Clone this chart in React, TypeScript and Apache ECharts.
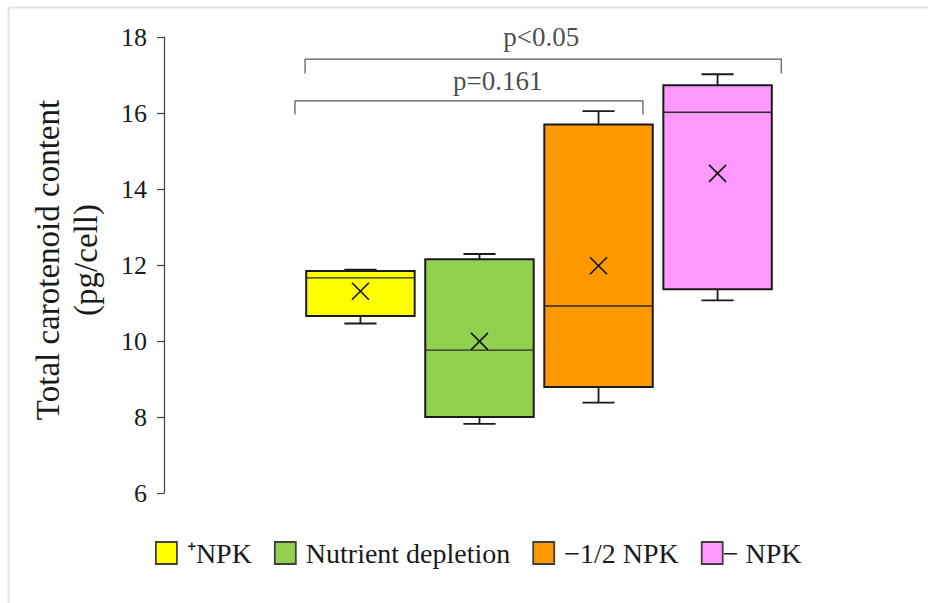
import React, { useEffect, useRef } from "react";
import * as echarts from "echarts";

const categories = ["⁺NPK", "Nutrient depletion", "−1/2 NPK", "− NPK"];
const whiskerLow = [10.46, 7.82, 8.38, 11.07];
const quartile1 = [10.66, 8.0, 8.79, 11.36];
const medians = [11.66, 9.76, 10.92, 16.02];
const quartile3 = [11.84, 12.15, 15.7, 16.73];
const whiskerHigh = [11.88, 12.29, 16.05, 17.02];
const means = [11.31, 9.99, 11.98, 14.41];
const boxColors = ["#FFFF00", "#92D050", "#FF9900", "#FF99FF"];

const bracketLabels = ["p=0.161", "p<0.05"];
const bracketFrom = [-0.55, -0.465];
const bracketTo = [2.373, 3.535];
const bracketTop = [16.32, 17.42];
const bracketFoot = [15.96, 17.04];
const bracketLabelX = [1.153, 1.518];
const bracketLabelY = [16.84, 18.0];

const yTicks = { min: 6, max: 18, interval: 2 };
const FONT = "'Liberation Serif', 'Times New Roman', serif";

export default function App() {
  const ref = useRef<HTMLDivElement>(null);
  useEffect(() => {
    document.body.style.margin = "0";
    const chart = echarts.init(ref.current!, undefined, { renderer: "svg" });

    const boxSeries = categories.map((name, i) => ({
      type: "custom",
      name,
      itemStyle: { color: boxColors[i] },
      data: [[i, whiskerLow[i], quartile1[i], medians[i], quartile3[i], whiskerHigh[i], means[i]]],
      renderItem: (params: any, api: any) => {
        const x = api.value(0);
        const lo = api.coord([x, api.value(1)]);
        const b1 = api.coord([x, api.value(2)]);
        const md = api.coord([x, api.value(3)]);
        const b3 = api.coord([x, api.value(4)]);
        const hi = api.coord([x, api.value(5)]);
        const mn = api.coord([x, api.value(6)]);
        const band = api.size([1, 0])[0];
        const bw = band * 0.911;
        const cap = band * 0.27;
        const cx = lo[0];
        const xs = 8.5;
        const stroke = "#1a1a1a";
        return {
          type: "group",
          children: [
            { type: "line", shape: { x1: cx, y1: b1[1], x2: cx, y2: lo[1] }, style: { stroke, lineWidth: 1.8 } },
            { type: "line", shape: { x1: cx - cap / 2, y1: lo[1], x2: cx + cap / 2, y2: lo[1] }, style: { stroke, lineWidth: 1.8 } },
            { type: "line", shape: { x1: cx, y1: b3[1], x2: cx, y2: hi[1] }, style: { stroke, lineWidth: 1.8 } },
            { type: "line", shape: { x1: cx - cap / 2, y1: hi[1], x2: cx + cap / 2, y2: hi[1] }, style: { stroke, lineWidth: 1.8 } },
            {
              type: "rect",
              shape: { x: cx - bw / 2, y: b3[1], width: bw, height: b1[1] - b3[1] },
              style: { fill: boxColors[i], stroke, lineWidth: 2 },
            },
            { type: "line", shape: { x1: cx - bw / 2, y1: md[1], x2: cx + bw / 2, y2: md[1] }, style: { stroke: "#2a2a2a", lineWidth: 1.4 } },
            { type: "line", shape: { x1: cx - xs, y1: mn[1] - xs, x2: cx + xs, y2: mn[1] + xs }, style: { stroke: "#111", lineWidth: 1.6 } },
            { type: "line", shape: { x1: cx - xs, y1: mn[1] + xs, x2: cx + xs, y2: mn[1] - xs }, style: { stroke: "#111", lineWidth: 1.6 } },
          ],
        };
      },
    }));

    const bracketSeries = bracketLabels.map((name, k) => ({
      type: "line",
      name: "bracket" + k,
      silent: true,
      symbol: "none",
      clip: false,
      lineStyle: { color: "#555", width: 1.2 },
      data: [
        [bracketFrom[k], bracketFoot[k]],
        [bracketFrom[k], bracketTop[k]],
        [bracketTo[k], bracketTop[k]],
        [bracketTo[k], bracketFoot[k]],
      ],
    }));

    const labelSeries = {
      type: "scatter",
      name: "pvalues",
      silent: true,
      symbolSize: 0,
      clip: false,
      data: bracketLabels.map((t, k) => ({ value: [bracketLabelX[k], bracketLabelY[k]], name: t })),
      label: {
        show: true,
        position: "inside",
        formatter: (p: any) => p.name,
        fontFamily: FONT,
        fontSize: 27,
        color: "#1a1a1a",
      },
    };

    chart.setOption({
      animation: false,
      grid: { left: 164, right: 14, top: 37, bottom: 110 },
      xAxis: { type: "value", min: -1.65, max: 4.65, show: false },
      yAxis: {
        type: "value",
        min: yTicks.min,
        max: yTicks.max,
        interval: yTicks.interval,
        axisLine: { show: true, onZero: false, lineStyle: { color: "#404040", width: 1.2 } },
        axisTick: { show: true, length: 7, lineStyle: { color: "#404040", width: 1.2 } },
        axisLabel: { fontFamily: FONT, fontSize: 26, color: "#1a1a1a", margin: 17 },
        splitLine: { show: false },
      },
      legend: {
        left: 155,
        top: 539,
        padding: 0,
        itemWidth: 21,
        itemHeight: 22,
        itemGap: 22,
        selectedMode: false,
        icon: "rect",
        itemStyle: { borderColor: "#404040", borderWidth: 1.8 },
        textStyle: { fontFamily: FONT, fontSize: 28, color: "#1a1a1a", padding: [0, 0, 0, 5] },
        data: categories.map((n, i) =>
          i === 3 ? { name: n, textStyle: { padding: [0, 0, 0, -5] } } : { name: n }
        ),
      },
      graphic: [
        {
          type: "text",
          x: 66.5,
          y: 260,
          rotation: Math.PI / 2,
          style: {
            text: "Total carotenoid content\n(pg/cell)",
            fontFamily: FONT,
            fontSize: 33,
            lineHeight: 38,
            fill: "#1a1a1a",
            align: "center",
            verticalAlign: "middle",
          },
        },
        { type: "line", shape: { x1: 8.5, y1: 7.5, x2: 928, y2: 7.5 }, style: { stroke: "#e2e2e2", lineWidth: 2 } },
        { type: "line", shape: { x1: 8.5, y1: 7.5, x2: 8.5, y2: 603 }, style: { stroke: "#e2e2e2", lineWidth: 2 } },
      ],
      series: [...boxSeries, ...bracketSeries, labelSeries],
    });
    return () => chart.dispose();
  }, []);
  return <div ref={ref} style={{ width: 928, height: 603 }} />;
}
